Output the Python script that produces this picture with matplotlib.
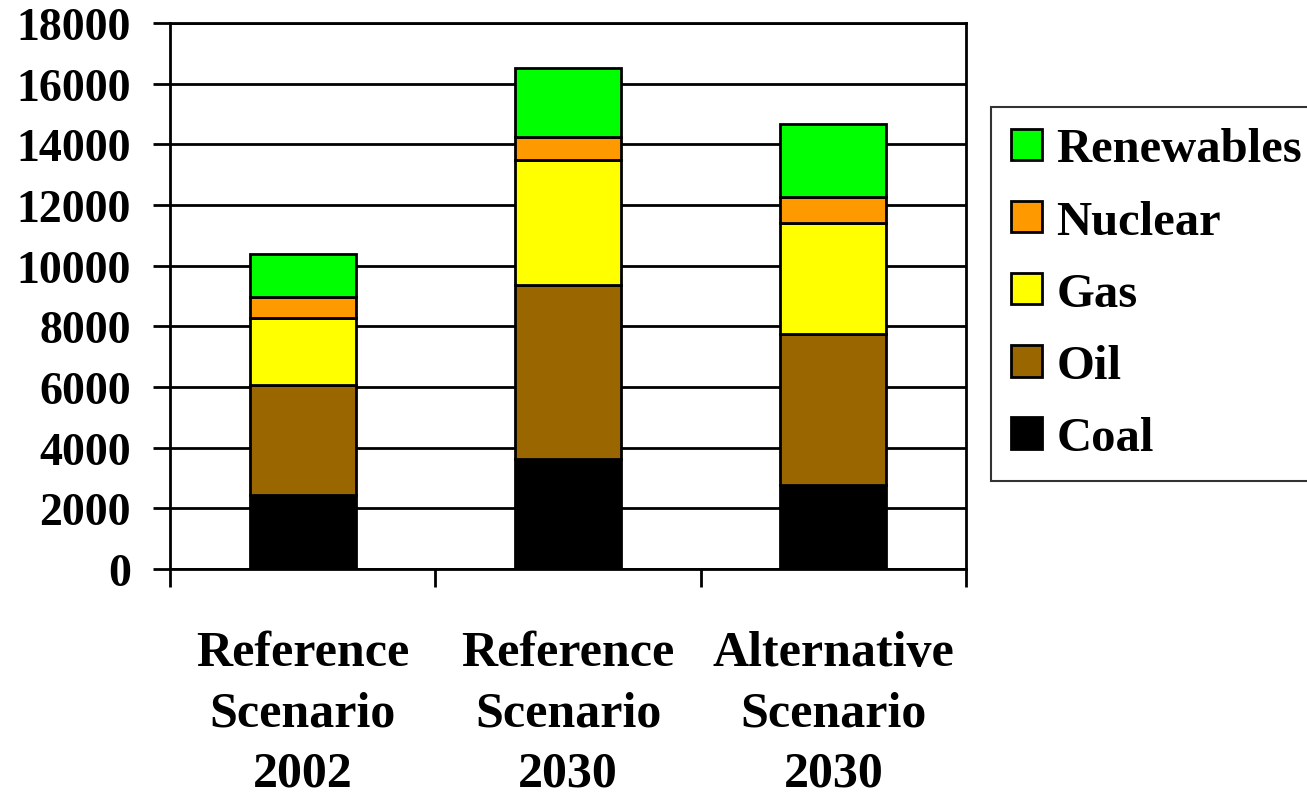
import matplotlib.pyplot as plt
import numpy as np

# values (stacked, bottom to top)
scenarios = ['Reference\nScenario\n2002', 'Reference\nScenario\n2030', 'Alternative\nScenario\n2030']
coal = [2430, 3620, 2770]
oil = [3640, 5740, 4980]
gas = [2200, 4120, 3660]
nuclear = [700, 760, 860]
renewables = [1420, 2280, 2410]

fuels = ['Coal', 'Oil', 'Gas', 'Nuclear', 'Renewables']
colors = ['#000000', '#996600', '#FFFF00', '#FF9900', '#00FF00']

plt.rcParams['font.family'] = ['Liberation Serif', 'DejaVu Serif']
plt.rcParams['font.weight'] = 'bold'
tick_font_size = 33
label_font_size = 36
legend_font_size = 35

fig = plt.figure(figsize=(13.07, 8.03), dpi=100)
ax = fig.add_axes([170 / 1307, 1 - 570 / 803, 796 / 1307, 546 / 803])

x = np.arange(len(scenarios))
bottom = np.zeros(len(scenarios))
handles = []
for name, vals, c in zip(fuels, [coal, oil, gas, nuclear, renewables], colors):
    b = ax.bar(x, vals, width=0.40, bottom=bottom, color=c, edgecolor='black',
               linewidth=2, label=name, zorder=3)
    handles.append(b)
    bottom += np.array(vals)

ax.set_ylim(0, 18000)
ax.set_xlim(-0.5, 2.5)
ax.set_yticks(range(0, 18001, 2000))
ax.yaxis.grid(True, color='black', linewidth=2, zorder=0)
ax.tick_params(axis='y', labelsize=tick_font_size, length=12, width=2, pad=16)

ax.set_xticks(x)
ax.set_xticklabels(scenarios, fontsize=label_font_size, linespacing=1.4)
ax.tick_params(axis='x', which='major', length=0, pad=44)
ax.set_xticks([-0.5, 0.5, 1.5, 2.5], minor=True)
ax.tick_params(axis='x', which='minor', length=13, width=2)

for s in ax.spines.values():
    s.set_linewidth(2)

leg = fig.legend(handles[::-1], fuels[::-1], loc='upper left',
                 bbox_to_anchor=(991 / 1307, 1 - 108 / 803),
                 fontsize=legend_font_size, frameon=True, fancybox=False,
                 edgecolor='black', handlelength=0.62, handleheight=0.62,
                 handletextpad=0.3, labelspacing=0.58, borderpad=0.42,
                 borderaxespad=0)
leg.get_frame().set_linewidth(1.5)

fig.savefig('out.png', dpi=100)
